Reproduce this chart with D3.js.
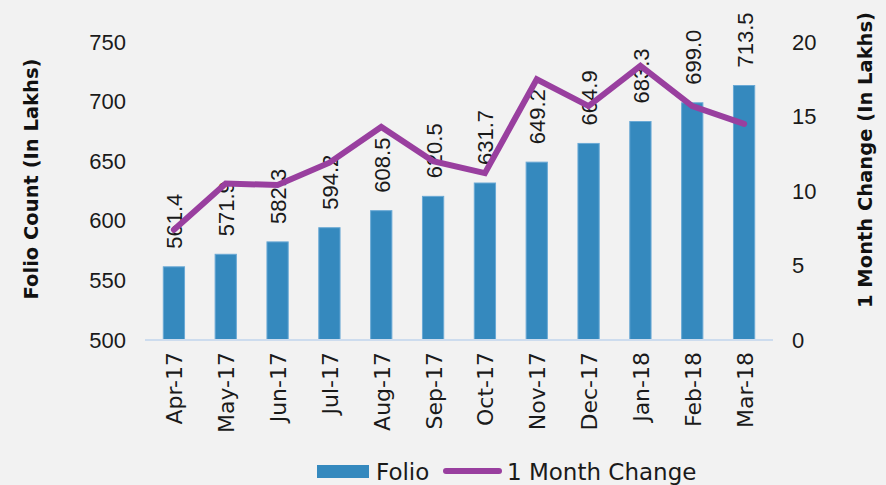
<!DOCTYPE html>
<html>
<head>
<meta charset="utf-8">
<script src="https://d3js.org/d3.v7.min.js"></script>
<style>
  body { margin: 0; background: #f2f2f2; }
  svg { display: block; }
</style>
</head>
<body>
<div id="my_dataviz"></div>
<script>
// data
var months = ["Apr-17", "May-17", "Jun-17", "Jul-17", "Aug-17", "Sep-17", "Oct-17", "Nov-17", "Dec-17", "Jan-18", "Feb-18", "Mar-18"];
var folio = [561.4, 571.9, 582.3, 594.2, 608.5, 620.5, 631.7, 649.2, 664.9, 683.3, 699.0, 713.5];
var monthChange = [7.4, 10.5, 10.4, 11.9, 14.3, 12.0, 11.2, 17.5, 15.7, 18.4, 15.7, 14.5];
var leftTicks = [500, 550, 600, 650, 700, 750];
var rightTicks = [0, 5, 10, 15, 20];

var barColor = "#3589be",
    lineColor = "#993f9f",
    numFont = "'Liberation Sans', Arial, sans-serif",
    textFont = "'DejaVu Sans', sans-serif";

// set the dimensions and margins of the graph
var W = 886, H = 485;
var margin = {top: 42, right: 116, bottom: 145, left: 148},
    width = W - margin.left - margin.right,
    height = H - margin.top - margin.bottom;

var svg = d3.select("#my_dataviz")
  .append("svg")
    .attr("width", W)
    .attr("height", H)
    .style("background", "#f2f2f2");

var g = svg.append("g")
    .attr("transform", "translate(" + margin.left + "," + margin.top + ")");

// scales
var x = d3.scaleBand()
  .domain(months)
  .range([0, width])
  .padding(0);
var barW = x.bandwidth() * 0.41;

var y = d3.scaleLinear()
  .domain([500, 750])
  .range([height, 0]);

var y2 = d3.scaleLinear()
  .domain([0, 20])
  .range([height, 0]);

// left axis (labels only)
var yAxis = g.append("g")
  .call(d3.axisLeft(y).tickValues(leftTicks).tickSize(0).tickPadding(22));
yAxis.select(".domain").remove();
yAxis.selectAll("text")
  .attr("font-family", numFont)
  .attr("font-size", 22)
  .attr("fill", "#1a1a1a");

// right axis (labels only)
var y2Axis = g.append("g")
  .attr("transform", "translate(" + width + ",0)")
  .call(d3.axisRight(y2).tickValues(rightTicks).tickSize(0).tickPadding(22));
y2Axis.select(".domain").remove();
y2Axis.selectAll("text")
  .attr("font-family", numFont)
  .attr("font-size", 22)
  .attr("fill", "#1a1a1a");

// bars
g.selectAll("rect.bar")
  .data(folio)
  .enter()
  .append("rect")
    .attr("class", "bar")
    .attr("x", function(d, i) { return x(months[i]) + (x.bandwidth() - barW) / 2; })
    .attr("y", function(d) { return y(d); })
    .attr("width", barW)
    .attr("height", function(d) { return height - y(d); })
    .attr("fill", barColor)
    .attr("stroke", "#6aa9d5")
    .attr("stroke-width", 1);

// bottom axis line + labels
var xAxis = g.append("g")
  .attr("transform", "translate(0," + height + ")")
  .call(d3.axisBottom(x).tickSize(0).tickPadding(0));
xAxis.select(".domain")
  .attr("stroke", "#cddcee")
  .attr("stroke-width", 2)
  .attr("d", "M-3,0H" + (width + 3));
xAxis.selectAll("text")
  .attr("font-family", textFont)
  .attr("font-size", 22)
  .attr("fill", "#1a1a1a")
  .attr("text-anchor", "end")
  .attr("dominant-baseline", "central")
  .attr("transform", "translate(1,12) rotate(-90)")
  .attr("x", 0)
  .attr("y", 0)
  .attr("dy", null);

// data labels for bars
g.selectAll("text.dlabel")
  .data(folio)
  .enter()
  .append("text")
    .attr("class", "dlabel")
    .attr("transform", function(d, i) {
      return "translate(" + (x(months[i]) + x.bandwidth() / 2 + 1) + "," + (y(d) - 18) + ") rotate(-90)";
    })
    .attr("text-anchor", "start")
    .attr("dominant-baseline", "central")
    .attr("font-family", numFont)
    .attr("font-size", 22)
    .attr("fill", "#1a1a1a")
    .text(function(d) { return d.toFixed(1); });

// 1 month change line
var line = d3.line()
  .x(function(d, i) { return x(months[i]) + x.bandwidth() / 2; })
  .y(function(d) { return y2(d); });

g.append("path")
  .datum(monthChange)
  .attr("d", line)
  .attr("fill", "none")
  .attr("stroke", lineColor)
  .attr("stroke-width", 6)
  .attr("stroke-linejoin", "miter")
  .attr("stroke-linecap", "round");

// axis titles
svg.append("text")
  .attr("transform", "translate(31,179) rotate(-90)")
  .attr("text-anchor", "middle")
  .attr("dominant-baseline", "central")
  .attr("font-family", textFont)
  .attr("font-weight", "bold")
  .attr("font-size", 19.5)
  .attr("fill", "#111")
  .text("Folio Count (In Lakhs)");

svg.append("text")
  .attr("transform", "translate(865,160) rotate(-90)")
  .attr("text-anchor", "middle")
  .attr("dominant-baseline", "central")
  .attr("font-family", textFont)
  .attr("font-weight", "bold")
  .attr("font-size", 19.5)
  .attr("fill", "#111")
  .text("1 Month Change (In Lakhs)");

// legend
var legend = svg.append("g");
legend.append("rect")
  .attr("x", 317).attr("y", 465)
  .attr("width", 52).attr("height", 13)
  .attr("fill", barColor);
legend.append("text")
  .attr("x", 376).attr("y", 472)
  .attr("dominant-baseline", "central")
  .attr("font-family", textFont)
  .attr("font-size", 23)
  .attr("fill", "#1a1a1a")
  .text("Folio");
legend.append("line")
  .attr("x1", 446).attr("x2", 499)
  .attr("y1", 471).attr("y2", 471)
  .attr("stroke", lineColor)
  .attr("stroke-width", 6)
  .attr("stroke-linecap", "round");
legend.append("text")
  .attr("x", 507).attr("y", 472)
  .attr("dominant-baseline", "central")
  .attr("font-family", textFont)
  .attr("font-size", 23)
  .attr("fill", "#1a1a1a")
  .text("1 Month Change");
</script>
</body>
</html>
